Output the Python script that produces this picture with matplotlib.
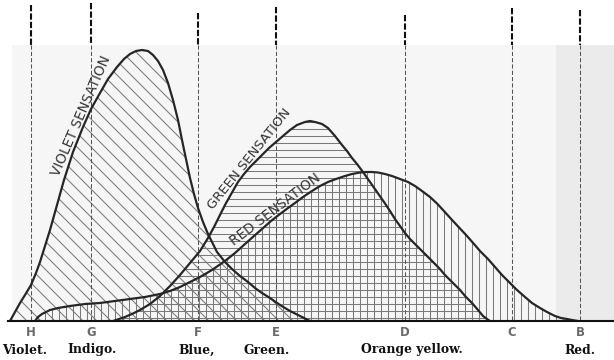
import numpy as np
import matplotlib
matplotlib.use("Agg")
import matplotlib.pyplot as plt
from matplotlib.patches import Rectangle

# Fraunhofer lines along the spectrum (position) and their letters
line_letters = ["H", "G", "F", "E", "D", "C", "B"]
line_pos = [31, 91, 198, 276, 405, 512, 580]
line_top = [316, 318, 308, 314, 306, 313, 311]

# Colour names under the spectrum
colour_names = ["Violet.", "Indigo.", "Blue,", "Green.", "Orange yellow.", "Red."]
colour_pos = [25, 92, 197, 267, 412, 580]

# Sensation curves: spectrum position and strength of sensation
violet_x = [10, 15, 20, 25, 31, 36, 40, 45, 50, 57, 64, 73, 83, 91, 100, 108,
            117, 124, 130, 136, 142, 148, 153, 158, 163, 168, 173, 178, 182,
            186, 190, 194, 198, 203, 208, 213, 217, 221, 225, 232, 240, 248,
            255, 262, 270, 280, 290, 300, 310]
violet_h = [0, 9, 18, 26, 36, 48, 59, 75, 91, 116, 141, 169, 194, 212, 228, 242,
            254, 262, 267, 270, 271, 270, 266, 260, 251, 238, 221, 201, 181,
            162, 143, 127, 113, 99, 87, 77, 69, 64, 59, 52, 45, 39,
            33, 28, 23, 16, 10, 5, 0]

green_x = [113, 119, 125, 132, 140, 150, 160, 170, 180, 190, 200, 208, 214,
           220, 225, 230, 238, 244, 250, 256, 262, 269, 276, 283, 290, 297,
           305, 310, 315, 322, 328, 335, 342, 347, 352, 357, 363, 370, 377,
           384, 390, 395, 400, 405, 410, 415, 424, 433, 439, 445, 452, 460,
           466, 472, 478, 483, 487, 490]
green_h = [0, 2, 4, 7, 11, 17, 25, 35, 46, 58, 70, 83, 94,
           106, 116, 125, 139, 147, 154, 160, 166, 173, 179, 185, 191, 196,
           199, 200, 199, 197, 193, 185, 176, 170, 163, 157, 149, 139, 129,
           119, 110, 102, 95, 88, 82, 77, 68, 59, 53, 46, 39, 31,
           24, 18, 11, 5, 2, 0]

red_x = [35, 38, 42, 46, 50, 58, 70, 85, 100, 115, 130, 145, 160, 170, 180,
         190, 200, 212, 225, 235, 245, 254, 262, 271, 280, 288, 295, 303, 312,
         320, 328, 336, 345, 352, 360, 366, 372, 378, 385, 392, 400, 408, 415,
         422, 430, 437, 443, 448, 453, 460, 467, 474, 480, 488, 495, 502, 510,
         517, 525, 532, 540, 547, 555, 561, 567, 572, 578]
red_h = [0, 4, 7, 9, 11, 13, 15, 17, 18, 20, 22, 24, 27, 30, 34,
         39, 44, 51, 60, 68, 77, 85, 92, 100, 107, 113, 118, 124, 130,
         135, 139, 142, 145, 147, 148.5, 149, 149, 148.5, 147, 145, 142, 139, 135,
         130, 124, 117.5, 111, 105.5, 100, 92.5, 85, 77, 70, 62, 54, 46, 38,
         31, 24, 18, 13, 9, 5, 3, 2, 1, 0]

DPI = 84
W, H = 614, 360
BASE = 321  # baseline row from the top

plt.rcParams["hatch.linewidth"] = 0.9

fig = plt.figure(figsize=(W / DPI, H / DPI), dpi=DPI)
ax = fig.add_axes([0, 0, 1, 1])
ax.set_xlim(0, W)
ax.set_ylim(BASE - H, BASE)
ax.axis("off")

# faint plate tone behind the diagram
ax.add_patch(Rectangle((12, 0), W - 12, 276, facecolor="#f6f6f6",
                       edgecolor="none", zorder=0))
ax.add_patch(Rectangle((556, 0), W - 556, 276, facecolor="#ebebeb",
                       edgecolor="none", zorder=0))

hatch_col = "#7a7a7a"
curve_col = "#262626"
curves = [
    (violet_x, violet_h, "\\\\"),
    (green_x, green_h, "--"),
    (red_x, red_h, "||"),
]
for xs, hs, hatch in curves:
    ax.fill_between(xs, 0, hs, facecolor="none", edgecolor=hatch_col,
                    linewidth=0, hatch=hatch, zorder=1)
for xs, hs, _ in curves:
    ax.plot(xs, hs, color=curve_col, lw=1.9, solid_joinstyle="round",
            solid_capstyle="round", zorder=4)

# Fraunhofer lines: heavy above the plate, lighter within it
for x, top in zip(line_pos, line_top):
    ax.plot([x, x], [top, 276], color="#111111", lw=1.8,
            dashes=(3.0, 1.0), zorder=3)
    ax.plot([x, x], [276, 0], color="#555555", lw=0.9,
            dashes=(4.0, 2.0), zorder=3)

# baseline
ax.plot([8, W], [0, 0], color="#111111", lw=1.8, zorder=5)


def curve_label(xs, hs, xm, text, span, offset, size):
    ym = np.interp(xm, xs, hs)
    y1 = np.interp(xm - span, xs, hs)
    y2 = np.interp(xm + span, xs, hs)
    ang = np.degrees(np.arctan2(y2 - y1, 2 * span))
    nx, ny = -np.sin(np.radians(ang)), np.cos(np.radians(ang))
    ax.text(xm + offset * nx, ym + offset * ny, text, rotation=ang,
            rotation_mode="anchor", ha="center", va="center",
            fontsize=size, color="#333333", family="DejaVu Sans", zorder=6)


curve_label(violet_x, violet_h, 87, "VIOLET SENSATION", 32, 6.5, 11.6)
curve_label(green_x, green_h, 254, "GREEN SENSATION", 42, 6.5, 11.4)
curve_label(red_x, red_h, 279, "RED SENSATION", 50, 6.5, 11.6)

for x, s in zip(line_pos, line_letters):
    ax.text(x, -11, s, ha="center", va="center", fontsize=10,
            color="#6a6a6a", family="DejaVu Sans", fontweight="bold")

for x, s in zip(colour_pos, colour_names):
    ax.text(x, -29, s, ha="center", va="center", fontsize=10.6,
            color="#111111", family="DejaVu Serif", fontweight="bold")

fig.savefig("out.png", dpi=DPI, facecolor="white")
